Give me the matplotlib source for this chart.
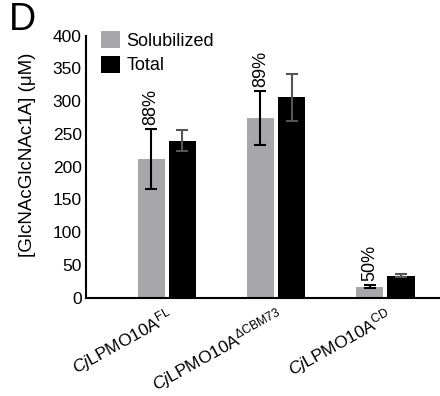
import numpy as np
import matplotlib
matplotlib.use("Agg")
import matplotlib.pyplot as plt

plt.rcParams['font.family'] = ['Liberation Sans', 'DejaVu Sans']
plt.rcParams['mathtext.fontset'] = 'custom'
plt.rcParams['mathtext.rm'] = 'Liberation Sans'
plt.rcParams['mathtext.it'] = 'Liberation Sans:italic'

# data
groups = [r"$\it{Cj}$LPMO10A$^{\mathrm{FL}}$",
          r"$\it{Cj}$LPMO10A$^{\mathrm{\Delta CBM73}}$",
          r"$\it{Cj}$LPMO10A$^{\mathrm{CD}}$"]
solubilized = [212, 274, 17]
solubilized_err = [46, 41, 2]
total = [240, 306, 34]
total_err = [16, 36, 3]
percent = ["88%", "89%", "50%"]

fig = plt.figure(figsize=(4.4, 3.96), dpi=100)
ax = fig.add_axes([0.195, 0.248, 0.805, 0.662])

x = np.arange(len(groups))
w = 0.25
off = 0.142
ax.bar(x - off, solubilized, w, color="#a7a7a9", label="Solubilized", zorder=2)
ax.bar(x + off, total, w, color="black", label="Total", zorder=2)
ax.errorbar(x - off, solubilized, yerr=solubilized_err, fmt="none", ecolor="black",
            elinewidth=1.5, capsize=4.5, capthick=1.5, zorder=3)
ax.errorbar(x + off, total, yerr=total_err, fmt="none", ecolor="#555555",
            elinewidth=1.5, capsize=4.5, capthick=1.5, zorder=3)

for i in range(len(groups)):
    ax.text(x[i] - off, solubilized[i] + solubilized_err[i] + 6, percent[i],
            rotation=90, ha="center", va="bottom", fontsize=13)

ax.set_xlim(-0.74, 2.5)
ax.set_ylim(0, 400)
ax.set_yticks(range(0, 401, 50))
ax.tick_params(axis="y", length=0, labelsize=12.5, pad=3)
ax.tick_params(axis="x", length=0, pad=5)
ax.set_xticks(x)
ax.set_xticklabels(groups, rotation=29, ha="right", rotation_mode="anchor", fontsize=12.5)
ax.set_ylabel("[GlcNAcGlcNAc1A] (μM)", fontsize=13.5)
ax.yaxis.set_label_coords(-0.14, 0.546)
for s in ["top", "right"]:
    ax.spines[s].set_visible(False)
ax.spines["left"].set_linewidth(1.5)
ax.spines["bottom"].set_linewidth(1.5)

ax.legend(loc="upper left", bbox_to_anchor=(0.023, 1.045), frameon=False, fontsize=13,
          handlelength=1.05, handleheight=1.05, handletextpad=0.35, labelspacing=0.35,
          borderaxespad=0)

fig.text(0.02, 0.995, "D", fontsize=27, ha="left", va="top")

fig.savefig("out.png", dpi=100)
